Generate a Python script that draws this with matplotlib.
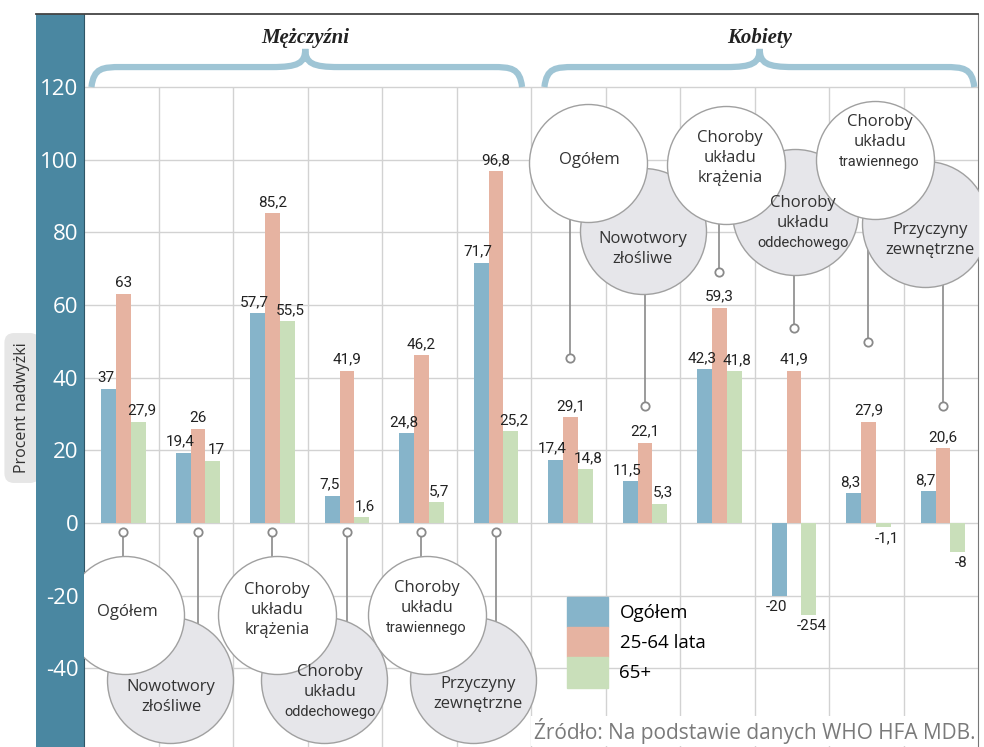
"""Nadwyżka umieralności w Polsce wg przyczyn zgonów, płci i grup wieku."""

import matplotlib.pyplot as plt
import numpy as np
from matplotlib.lines import Line2D
from matplotlib.patches import Patch, PathPatch, Rectangle
from matplotlib.path import Path

plt.rcParams["font.family"] = ["Open Sans", "DejaVu Sans"]
plt.rcParams["axes.unicode_minus"] = False

# --- data -------------------------------------------------------------------
causes = ["Ogółem", "Nowotwory\nzłośliwe", "Choroby\nukładu\nkrążenia",
          "Choroby\nukładu\noddechowego", "Choroby\nukładu\ntrawiennego",
          "Przyczyny\nzewnętrzne"]
sexes = ["Mężczyźni", "Kobiety"]
series = ["Ogółem", "25-64 lata", "65+"]

men_total = [37, 19.4, 57.7, 7.5, 24.8, 71.7]
men_25_64 = [63, 26, 85.2, 41.9, 46.2, 96.8]
men_65 = [27.9, 17, 55.5, 1.6, 5.7, 25.2]
women_total = [17.4, 11.5, 42.3, -20, 8.3, 8.7]
women_25_64 = [29.1, 22.1, 59.3, 41.9, 27.9, 20.6]
women_65 = [14.8, 5.3, 41.8, -25.4, -1.1, -8]
# the source prints the -25,4 bar as "-254"
label_override = {(2, 9): "-254"}

yticks = [-40, -20, 0, 20, 40, 60, 80, 100, 120]

# --- style ------------------------------------------------------------------
W, H = 984, 747
colors = ["#86b4ca", "#e6b3a1", "#c9dfba"]
teal = "#4a87a1"
grid_c = "#d2d2d2"
brace_c = "#9fc5d5"
narrow = ["Liberation Sans Narrow", "Roboto", "DejaVu Sans"]

# circle layout (data coords) for each of the 12 category labels
circ_xy = [(0.55, -25.3), (1.15, -43.2), (2.59, -25.3), (3.22, -43.2), (4.60, -25.3), (5.22, -43.2),
           (6.77, 99.1), (7.50, 80.4), (8.62, 98.5), (9.54, 85.6), (10.62, 99.9), (11.29, 82.3)]
text_xy = [(0.58, -24.5), (1.17, -48), (2.59, -24), (3.30, -46.5), (4.60, -23.5), (5.29, -47),
           (6.79, 100), (7.50, 75.5), (8.67, 100.5), (9.65, 82.5), (10.68, 105), (11.36, 78)]
marker_y = [-2.5] * 6 + [45.4, 32.2, 69.1, 53.7, 49.8, 32.2]

fig = plt.figure(figsize=(W / 100, H / 100), dpi=100)
ax = fig.add_axes([84 / W, 0, (978 - 84) / W, 1 - 14 / H])
ylo = (523 - H) / 3.633
yhi = (523 - 14) / 3.633
ax.set_xlim(0, 12)
ax.set_ylim(ylo, yhi)

# teal band with tick labels, y label box, top rule
fig.add_artist(Rectangle((36 / W, 0), 48 / W, 1 - 14 / H, transform=fig.transFigure,
                         facecolor=teal, edgecolor="none", zorder=-1))
fig.add_artist(Line2D([36 / W, 978 / W], [1 - 14 / H] * 2, transform=fig.transFigure,
                      color="#444444", lw=1.3))
fig.text(22 / W, 1 - 408 / H, "Procent nadwyżki", rotation=90, ha="center", va="center",
         fontsize=11.5, color="#333333", zorder=-2,
         bbox=dict(boxstyle="round,pad=0.6", fc="#e6e6e6", ec="none"))

ax.set_yticks(yticks)
ax.set_xticks([])
ax.tick_params(axis="y", length=0, pad=4, labelcolor="white", labelsize=16)
for side in ["top", "bottom"]:
    ax.spines[side].set_visible(False)
ax.spines["left"].set_color("#2f5566")
ax.spines["right"].set_color("#777777")

# grid
ax.hlines(yticks, 0, 12, color=grid_c, lw=1, zorder=0)
ax.vlines(np.arange(1, 12), ylo, 120, color=grid_c, lw=1, zorder=0)

# bars
x = np.arange(12) + 0.53
bar_w = 0.2
values = [men_total + women_total, men_25_64 + women_25_64, men_65 + women_65]
for s, (vals, c) in enumerate(zip(values, colors)):
    xs = x + (s - 1) * bar_w
    ax.bar(xs, vals, bar_w, color=c, zorder=2, label=series[s])
    dx = (s - 1) * 3
    for i, (xi, v) in enumerate(zip(xs, vals)):
        txt = label_override.get((s, i), f"{v:g}".replace(".", ","))
        ax.annotate(txt, (xi, v), xytext=(dx, 4 if v >= 0 else -4), textcoords="offset pixels",
                    ha="center", va="bottom" if v >= 0 else "top", fontsize=11,
                    family=narrow, color="#222222", zorder=3)

# category circles with connectors
labels = causes + causes
for i, lab in enumerate(labels):
    cx, cy = circ_xy[i]
    white = i % 2 == 0
    ax.plot([x[i], x[i]], [marker_y[i], cy], color="#8a8a8a", lw=1.2, zorder=3)
    ax.plot(x[i], marker_y[i], "o", ms=6, mfc="white", mec="#8a8a8a", mew=1.3, zorder=3)
    d = 118 if white else 126
    ax.scatter([cx], [cy], s=(d * 0.72) ** 2, facecolor="white" if white else "#e6e6ea",
               edgecolor="#a0a0a0", lw=1, zorder=5 if white else 4)
    lines = lab.split("\n")
    n = len(lines)
    for k, line in enumerate(lines):
        off = ((n - 1) / 2 - k) * 20
        long_word = len(line) > 10
        ax.annotate(line, text_xy[i], xytext=(0, off), textcoords="offset pixels",
                    ha="center", va="center", fontsize=10.5 if long_word else 12,
                    family=narrow if long_word else ["Open Sans", "DejaVu Sans"],
                    color="#333333", zorder=6)

# braces with sex titles
def brace(x0, x1, xc):
    yb, ym, yt = 120, 125.5, 130.5
    verts = [(x0, yb), (x0 + 0.03, ym - 0.2), (x0 + 0.15, ym), (x0 + 0.4, ym),
             (xc - 0.45, ym),
             (xc - 0.1, ym), (xc, ym + 1), (xc, yt),
             (xc, ym + 1), (xc + 0.1, ym), (xc + 0.45, ym),
             (x1 - 0.4, ym),
             (x1 - 0.15, ym), (x1 - 0.03, ym - 0.2), (x1, yb)]
    codes = [Path.MOVETO, Path.CURVE4, Path.CURVE4, Path.CURVE4, Path.LINETO,
             Path.CURVE4, Path.CURVE4, Path.CURVE4, Path.CURVE4, Path.CURVE4, Path.CURVE4,
             Path.LINETO, Path.CURVE4, Path.CURVE4, Path.CURVE4]
    ax.add_patch(PathPatch(Path(verts, codes), fc="none", ec=brace_c, lw=4.5,
                           capstyle="butt", zorder=2))


brace(0.1, 5.88, 2.97)
brace(6.18, 11.95, 9.07)
for xt, name in zip([2.97, 9.07], sexes):
    ax.text(xt, 133.5, name, ha="center", va="center", fontsize=15, style="italic",
            weight="bold", family=["Liberation Serif", "DejaVu Serif"], color="#222222")

# legend
ax.legend(handles=[Patch(color=c) for c in colors], labels=series, loc="upper left",
          bbox_to_anchor=(567 / W, 1 - 597 / H), bbox_transform=fig.transFigure,
          frameon=False, borderpad=0, borderaxespad=0, handlelength=2.2, handleheight=2.1,
          labelspacing=0, handletextpad=0.6, fontsize=13.5)

fig.text(975 / W, 1 - 731 / H, "Źródło: Na podstawie danych WHO HFA MDB.", ha="right",
         va="center", fontsize=15, color="#7a7a7a",
         bbox=dict(boxstyle="square,pad=0.1", fc="white", ec="none"))

fig.savefig("out.png", dpi=100)
